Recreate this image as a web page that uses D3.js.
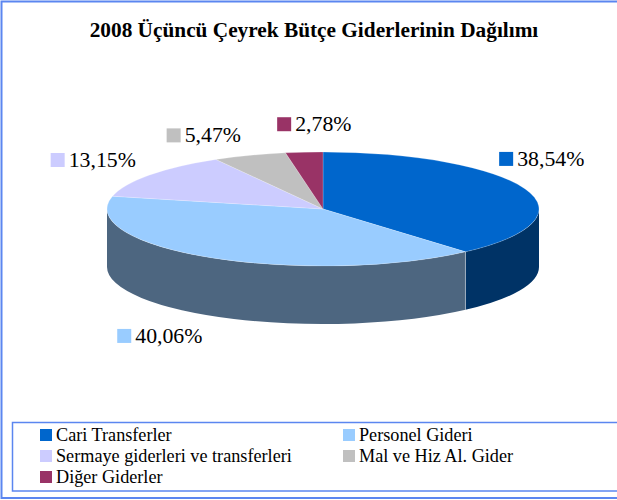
<!DOCTYPE html>
<html>
<head>
<meta charset="utf-8">
<script src="https://cdn.jsdelivr.net/npm/d3@7"></script>
<style>
  body { margin: 0; background: #fff; }
  svg { display: block; }
  text { font-family: 'Times New Roman', 'Liberation Serif', 'DejaVu Serif', serif; }
</style>
</head>
<body>
<svg id="chart" width="617" height="500"></svg>
<script>
// data
const categories = ['Cari Transferler', 'Personel Gideri', 'Sermaye giderleri ve transferleri', 'Mal ve Hiz Al. Gider', 'Diğer Giderler'];
const shares = [38.54, 40.06, 13.15, 5.47, 2.78];
const labels = ['38,54%', '40,06%', '13,15%', '5,47%', '2,78%'];
const colors = ['#0066CC', '#99CCFF', '#CCCCFF', '#C0C0C0', '#993366'];

// label nudges relative to the slice rim point (Excel "best fit")
const labelNudge = [[-26, -37], [-95, 13], [-99, -22], [-83, -27], [-27, -35]];

const serif = "'Times New Roman', 'Liberation Serif', 'DejaVu Serif', serif";

const svg = d3.select('#chart')
    .attr('font-family', serif);
const cx = 323, cy = 209, rx = 216, ry = 57, depth = 58;

// outer border
svg.append('rect')
    .attr('x', 1.5).attr('y', 1.5)
    .attr('width', 640).attr('height', 496.5)
    .attr('fill', 'none')
    .attr('stroke', '#5b86f0')
    .attr('stroke-width', 2);

svg.append('text')
    .attr('x', 314).attr('y', 37)
    .attr('text-anchor', 'middle')
    .attr('font-family', serif)
    .attr('font-size', 21.3)
    .attr('font-weight', 'bold')
    .text('2008 Üçüncü Çeyrek Bütçe Giderlerinin Dağılımı');

const pie = d3.pie().sort(null).value(d => d);
const arcs = pie(shares);

const pt = (a, dy = 0) => [cx + rx * Math.sin(a), cy - ry * Math.cos(a) + dy];

function topPath(d) {
    const p0 = pt(d.startAngle), p1 = pt(d.endAngle);
    const large = (d.endAngle - d.startAngle) > Math.PI ? 1 : 0;
    return `M${cx},${cy}L${p0}A${rx},${ry} 0 ${large} 1 ${p1}Z`;
}

function sidePath(d) {
    const s = Math.max(d.startAngle, Math.PI / 2);
    const e = Math.min(d.endAngle, 3 * Math.PI / 2);
    if (e <= s) return null;
    const a = pt(s), b = pt(e), b2 = pt(e, depth), a2 = pt(s, depth);
    return `M${a}A${rx},${ry} 0 0 1 ${b}L${b2}A${rx},${ry} 0 0 0 ${a2}Z`;
}

const darken = c => {
    const r = d3.rgb(c);
    return d3.rgb(r.r * 0.5, r.g * 0.5, r.b * 0.5);
};

const pieG = svg.append('g');

pieG.selectAll('.side')
    .data(arcs.filter(d => sidePath(d)))
    .join('path')
    .attr('class', 'side')
    .attr('d', sidePath)
    .attr('fill', d => darken(colors[d.index]));

// seams between side segments
pieG.selectAll('.seam')
    .data(arcs.filter(d => d.endAngle > Math.PI / 2 && d.endAngle < 3 * Math.PI / 2))
    .join('line')
    .attr('class', 'seam')
    .attr('x1', d => pt(d.endAngle)[0]).attr('y1', d => pt(d.endAngle)[1])
    .attr('x2', d => pt(d.endAngle, depth)[0]).attr('y2', d => pt(d.endAngle, depth)[1])
    .attr('stroke', '#ffffff')
    .attr('stroke-opacity', 0.5)
    .attr('stroke-width', 0.8);

pieG.selectAll('.top')
    .data(arcs)
    .join('path')
    .attr('class', 'top')
    .attr('d', topPath)
    .attr('fill', d => colors[d.index])
    .attr('stroke', '#ffffff')
    .attr('stroke-opacity', 0.35)
    .attr('stroke-width', 0.6);

// data labels
const lab = svg.append('g').selectAll('g')
    .data(arcs)
    .join('g')
    .attr('transform', d => {
        const mid = (d.startAngle + d.endAngle) / 2;
        const front = Math.cos(mid) < 0 ? depth : 0;
        const p = pt(mid, front);
        const n = labelNudge[d.index];
        return `translate(${p[0] + n[0]},${p[1] + n[1]})`;
    });

lab.append('rect')
    .attr('width', 14).attr('height', 14)
    .attr('fill', d => colors[d.index]);

lab.append('text')
    .attr('x', 18).attr('y', 14)
    .attr('font-family', serif)
    .attr('font-size', 21.8)
    .text(d => labels[d.index]);

// legend
svg.append('rect')
    .attr('x', 12.5).attr('y', 422.5)
    .attr('width', 620).attr('height', 68.5)
    .attr('fill', 'none')
    .attr('stroke', '#5b86f0')
    .attr('stroke-width', 1.5);

const leg = svg.append('g').selectAll('g')
    .data(categories)
    .join('g')
    .attr('transform', (d, i) => `translate(${i % 2 ? 343 : 40},${429 + Math.floor(i / 2) * 21})`);

leg.append('rect')
    .attr('width', 12).attr('height', 12)
    .attr('fill', (d, i) => colors[i]);

leg.append('text')
    .attr('x', 16).attr('y', 12)
    .attr('font-family', serif)
    .attr('font-size', 18.2)
    .text(d => d);
</script>
</body>
</html>
